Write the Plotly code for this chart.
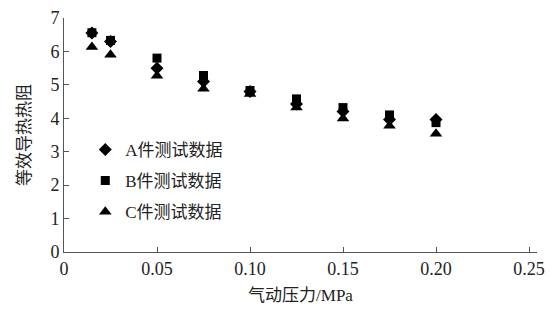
import plotly.graph_objects as go

pressure = [0.015, 0.025, 0.05, 0.075, 0.10, 0.125, 0.15, 0.175, 0.20]
series_a = [6.55, 6.30, 5.50, 5.10, 4.80, 4.43, 4.20, 3.96, 3.96]
series_b = [6.56, 6.33, 5.80, 5.28, 4.83, 4.58, 4.32, 4.10, 3.87]
series_c = [6.13, 5.90, 5.27, 4.88, 4.73, 4.32, 3.99, 3.78, 3.54]
names = ["A件测试数据", "B件测试数据", "C件测试数据"]
x_ticks = [0, 0.05, 0.10, 0.15, 0.20, 0.25]
x_tick_labels = ["0", "0.05", "0.10", "0.15", "0.20", "0.25"]
y_ticks = [0, 1, 2, 3, 4, 5, 6, 7]

FONT = "Liberation Serif, Times New Roman, Noto Sans CJK SC, serif"

fig = go.Figure()
for vals, name, sym, size in [
    (series_a, names[0], "diamond", 10),
    (series_b, names[1], "square", 9),
    (series_c, names[2], "triangle-up", 11),
]:
    fig.add_trace(go.Scatter(
        x=pressure, y=vals, mode="markers", name=name, legendgroup=name,
        marker=dict(symbol=sym, size=size, color="black"),
    ))

fig.update_layout(
    width=554, height=324,
    margin=dict(l=64, r=17, t=18, b=72),
    paper_bgcolor="white", plot_bgcolor="white",
    font=dict(family=FONT, size=18, color="#222"),
    showlegend=True,
    legend=dict(x=0.045, y=0.513, xanchor="left", yanchor="top",
                bgcolor="rgba(0,0,0,0)", tracegroupgap=6,
                font=dict(family=FONT, size=17, color="#222")),
    xaxis=dict(range=[0, 0.2543], tickvals=x_ticks, ticktext=x_tick_labels,
               automargin=False,
               showline=True, linecolor="#555", linewidth=1, ticks="inside",
               ticklen=5, tickcolor="#555", showgrid=False, zeroline=False,
               title=dict(text="气动压力/MPa", standoff=11,
                          font=dict(family=FONT, size=17))),
    yaxis=dict(range=[0, 7], tickvals=y_ticks, automargin=False,
               showline=True, linecolor="#555", linewidth=1, ticks="inside",
               ticklen=5, tickcolor="#555", showgrid=False, zeroline=False,
               title=dict(text="等效导热热阻", standoff=15,
                          font=dict(family=FONT, size=17))),
)

fig.write_html("out.html", config={"displayModeBar": False},
               post_script="document.body.style.margin='0';")
